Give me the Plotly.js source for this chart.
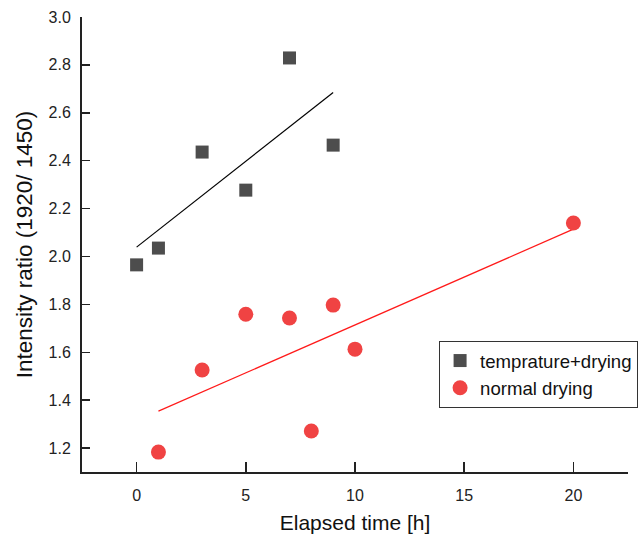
<!DOCTYPE html>
<html>
<head>
<meta charset="utf-8">
<script src="https://cdn.plot.ly/plotly-3.0.1.min.js"></script>
<style>html,body{margin:0;padding:0;background:#fff;overflow:hidden;}#chart{width:638px;height:535px;}</style>
</head>
<body>
<div id="chart"></div>
<script>
// Data
const tempX = [0, 1, 3, 5, 7, 9];
const tempY = [1.965, 2.035, 2.436, 2.277, 2.829, 2.465];
const normX = [1, 3, 5, 7, 8, 9, 10, 20];
const normY = [1.183, 1.526, 1.759, 1.743, 1.271, 1.797, 1.613, 2.140];
// Fit line endpoints
const tempFitX = [0, 9];
const tempFitY = [2.039, 2.685];
const normFitX = [1, 20];
const normFitY = [1.354, 2.114];
const xTicks = [0, 5, 10, 15, 20];
const yTicks = [1.2, 1.4, 1.6, 1.8, 2.0, 2.2, 2.4, 2.6, 2.8, 3.0];
const yTickText = ['1.2', '1.4', '1.6', '1.8', '2.0', '2.2', '2.4', '2.6', '2.8', '3.0'];

const font = 'Liberation Sans, Arial, sans-serif';

const traces = [
  {x: tempFitX, y: tempFitY, mode: 'lines', line: {color: '#000000', width: 1.2}, showlegend: false, hoverinfo: 'skip'},
  {x: normFitX, y: normFitY, mode: 'lines', line: {color: '#ff1a1a', width: 1.2}, showlegend: false, hoverinfo: 'skip'},
  {x: tempX, y: tempY, mode: 'markers', name: 'temprature+drying',
   marker: {symbol: 'square', size: 13, color: '#4d4d4d'}},
  {x: normX, y: normY, mode: 'markers', name: 'normal drying',
   marker: {symbol: 'circle', size: 15, color: '#f04343'}}
];

const layout = {
  width: 638, height: 535,
  margin: {l: 82, r: 10, t: 17, b: 63, autoexpand: false},
  paper_bgcolor: '#ffffff', plot_bgcolor: '#ffffff',
  font: {family: font, color: '#222222', size: 16},
  showlegend: true,
  legend: {
    x: 0.654, y: 0.288, xanchor: 'left', yanchor: 'top',
    bgcolor: '#ffffff', bordercolor: '#333333', borderwidth: 1,
    font: {family: font, size: 18.6, color: '#111111'},
    traceorder: 'normal'
  },
  xaxis: {
    range: [-2.5, 22.5], tickvals: xTicks, ticktext: xTicks.map(String),
    ticks: 'inside', ticklen: 10, tickwidth: 1.5, tickcolor: '#222222',
    showline: true, linecolor: '#222222', linewidth: 2, mirror: false,
    showgrid: false, zeroline: false, ticklabelstandoff: 8,
    tickfont: {family: font, size: 16, color: '#222222'},
    title: {text: 'Elapsed time [h]', font: {family: font, size: 21, color: '#111111'}, standoff: 12}
  },
  yaxis: {
    range: [1.1, 3.0], tickvals: yTicks, ticktext: yTickText,
    ticks: 'inside', ticklen: 8, tickwidth: 1.5, tickcolor: '#222222',
    showline: true, linecolor: '#222222', linewidth: 2, mirror: false,
    showgrid: false, zeroline: false, ticklabelstandoff: 6,
    tickfont: {family: font, size: 16, color: '#222222'},
    title: {text: 'Intensity ratio (1920/ 1450)', font: {family: font, size: 22.5, color: '#111111'}, standoff: 10}
  }
};

Plotly.newPlot('chart', traces, layout, {displayModeBar: false, staticPlot: true});
</script>
</body>
</html>
